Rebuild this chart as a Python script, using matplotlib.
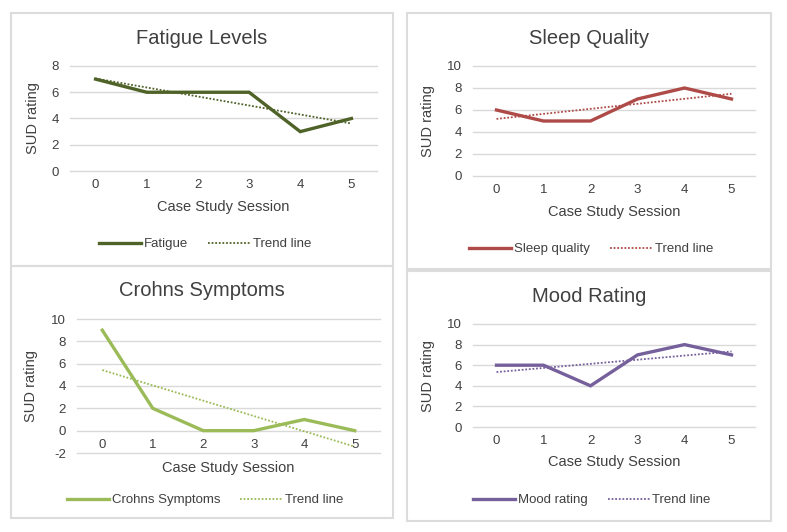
import numpy as np
import matplotlib
matplotlib.use("Agg")
import matplotlib.pyplot as plt
from matplotlib.patches import Rectangle

plt.rcParams['font.family'] = ['Liberation Sans', 'DejaVu Sans']
plt.rcParams['axes.unicode_minus'] = False

W, H = 787, 532
TXT = '#404040'
GRID = '#d9d9d9'

sessions = [0, 1, 2, 3, 4, 5]
fatigue = [7, 6, 6, 6, 3, 4]
sleep = [6, 5, 5, 7, 8, 7]
crohns = [9, 2, 0, 0, 1, 0]
mood = [6, 6, 4, 7, 8, 7]

titles = ['Fatigue Levels', 'Sleep Quality', 'Crohns Symptoms', 'Mood Rating']
series_names = ['Fatigue', 'Sleep quality', 'Crohns Symptoms', 'Mood rating']
colors = ['#4F6228', '#AE4B48', '#9BBB59', '#76609C']
yticks = [[0, 2, 4, 6, 8], [0, 2, 4, 6, 8, 10],
          [-2, 0, 2, 4, 6, 8, 10], [0, 2, 4, 6, 8, 10]]

# pixel layout: box, axes, title y, legend centre, ylabel x, xlabel y
panels = [
    ((11, 13, 393, 266), (70, 66, 377, 171), 38, (205, 244), 40, 207),
    ((407, 13, 771, 269), (473, 66, 755, 176), 38, (591, 249), 435, 212),
    ((11, 266, 393, 518), (77, 319, 380, 453), 291, (205, 500), 38, 468),
    ((407, 271, 771, 521), (473, 324, 755, 427), 296, (592, 500), 435, 462),
]

fig = plt.figure(figsize=(W / 100, H / 100), dpi=100)
fig.patch.set_facecolor('white')


def fx(px):
    return px / W


def fy(py):
    return 1 - py / H


for i, data in enumerate([fatigue, sleep, crohns, mood]):
    box, axp, ty, leg, ylx, xly = panels[i]
    aw = axp[2] - axp[0]
    ah = axp[3] - axp[1]
    fig.add_artist(Rectangle((fx(box[0]), fy(box[3])), fx(box[2] - box[0]),
                             (box[3] - box[1]) / H, transform=fig.transFigure,
                             fill=False, edgecolor='#dcdcdc', lw=1.5))
    ax = fig.add_axes([fx(axp[0]), fy(axp[3]), fx(aw), ah / H])
    x = np.array(sessions)
    y = np.array(data)
    k, b = np.polyfit(x, y, 1)
    l1, = ax.plot(x, y, color=colors[i], lw=2.4, solid_joinstyle='miter',
                  label=series_names[i])
    l2, = ax.plot(x, k * x + b, color=colors[i], lw=1.3, ls=(0, (1, 1)),
                  label='Trend line')
    yt = yticks[i]
    ax.set_ylim(yt[0], yt[-1])
    ax.set_yticks(yt)
    ax.set_xlim(-0.5, 5.5)
    ax.set_xticks(sessions)
    ax.grid(axis='y', color=GRID, lw=1)
    for gl in ax.get_ygridlines():
        gl.set_clip_on(False)
    ax.set_axisbelow(True)
    for s in ax.spines.values():
        s.set_visible(False)
    if yt[0] < 0:
        ax.spines['bottom'].set_position(('data', 0))
    ax.tick_params(length=0, labelsize=9.5, colors=TXT)
    ax.tick_params(axis='y', pad=8)
    ax.tick_params(axis='x', pad=6)
    ax.set_ylabel('SUD rating', fontsize=10.5, color=TXT)
    ax.yaxis.set_label_coords((ylx - axp[0]) / aw, 0.5)
    ax.set_xlabel('Case Study Session', fontsize=10.5, color=TXT)
    ax.xaxis.set_label_coords(0.5, -(xly - axp[3]) / ah)
    ax.xaxis.label.set_va('center')
    fig.text(fx((box[0] + box[2]) / 2), fy(ty), titles[i], fontsize=14.5,
             color=TXT, ha='center', va='center')
    lg = fig.legend(handles=[l1, l2], loc='center',
                    bbox_to_anchor=(fx(leg[0]), fy(leg[1])), ncol=2,
                    frameon=False, fontsize=9.5, handlelength=3.2,
                    handletextpad=0.2, columnspacing=1.5)
    for t in lg.get_texts():
        t.set_color(TXT)

fig.savefig('out.png', dpi=100, facecolor='white')
